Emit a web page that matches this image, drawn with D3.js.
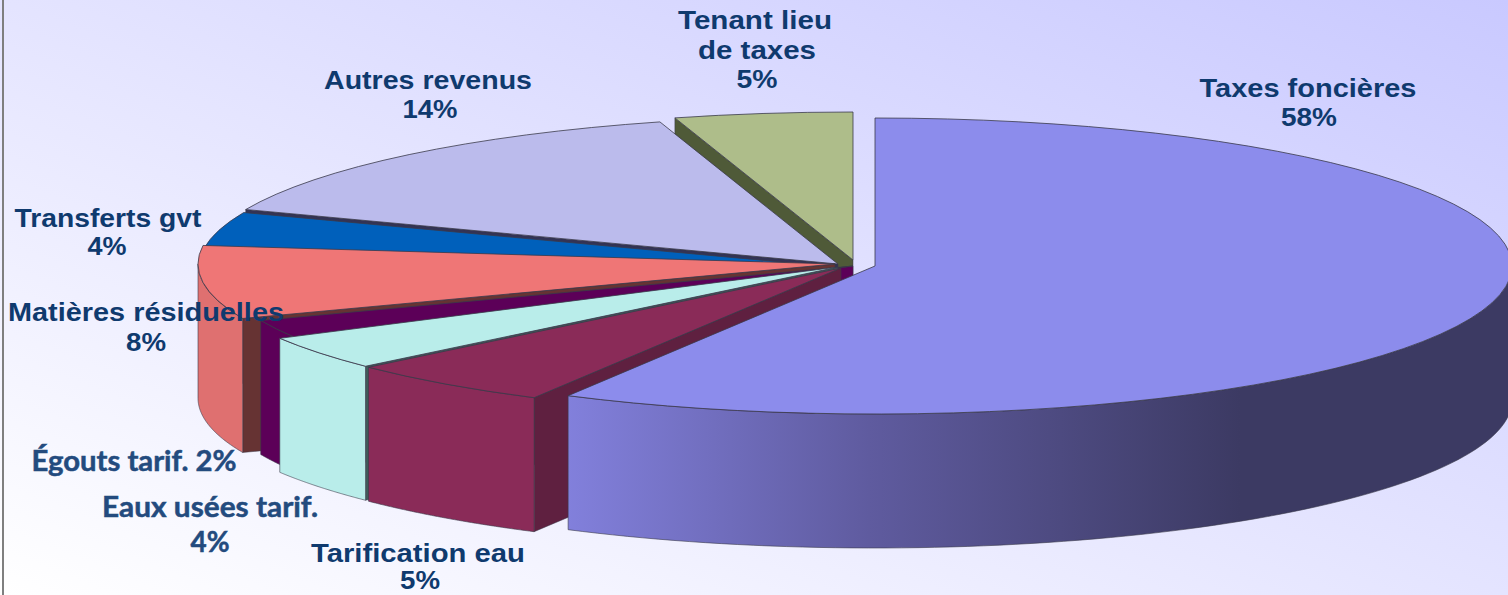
<!DOCTYPE html>
<html>
<head>
<meta charset="utf-8">
<script src="https://cdnjs.cloudflare.com/ajax/libs/d3/7.8.5/d3.min.js"></script>
<style>
  html, body { margin: 0; padding: 0; background: #fff; }
  svg { display: block; }
  text { font-family: "Liberation Sans", Arial, sans-serif; font-weight: bold; }
</style>
</head>
<body>
<svg id="chart" width="1508" height="595"></svg>
<script>
// share of revenues, clockwise from 12 o'clock. each rounds to the printed label
let categories = ['Taxes foncières', 'Tarification eau', 'Eaux usées tarif.', 'Égouts tarif.', 'Matières résiduelles', 'Transferts gvt', 'Autres revenus', 'Tenant lieu de taxes']
let values = [58, 5.3, 3.7, 2, 8, 4, 14.49, 4.51]

// styles and explode offsets, same order as categories
let topColors = ['#8c8cec', '#8a2b58', '#b9edea', '#5c0058', '#ef7676', '#0060bb', '#bbbbec', '#aebd8a']
let wallColors = ['url(#bigWall)', '#8a2b58', '#b9edea', '#5c0058', '#df7070', '#0060bb', '#bbbbec', '#aebd8a']
let faceColors = ['#3c3a63', '#5f2040', '#3f5a5a', '#5c0058', '#663333', '#1a2a4a', '#333355', '#4f5a38']
let centers = [[875, 266], [841, 268], [838, 267], [853, 266], [835, 264], [836, 267], [838, 264], [853, 260]]

// label lines: text, centre x, baseline, width, colour, font
let labelLines = ['Taxes foncières', '58%', 'Tenant lieu', 'de taxes', '5%', 'Autres revenus', '14%', 'Transferts gvt', '4%', 'Matières résiduelles', '8%', 'Égouts tarif. 2%', 'Eaux usées tarif.', '4%', 'Tarification eau', '5%']
let labelX = [1308, 1309, 755, 757, 757, 428, 430, 108, 107, 146, 146, 134, 210, 210, 418, 420]
let labelY = [97, 126, 29, 59, 88, 89, 118, 227, 255, 321, 351, 471, 517, 552, 562, 589]
let labelW = [217, 56, 154, 118, 41, 208, 55, 187, 39, 276, 40, 205, 216, 39, 214, 40]
let labelLato = [0, 0, 0, 0, 0, 0, 0, 0, 0, 0, 0, 1, 1, 1, 0, 0]

let svg = d3.select('#chart')
let width = +svg.attr('width')
let height = +svg.attr('height')
let rx = 637
let ry = 148
let depth = 134

let defs = svg.append('defs')
let bg = defs.append('linearGradient').attr('id', 'bg')
  .attr('x1', 0).attr('y1', 1).attr('x2', 1).attr('y2', 0)
bg.append('stop').attr('offset', '0%').attr('stop-color', '#ffffff')
bg.append('stop').attr('offset', '100%').attr('stop-color', '#c9c9ff')

let bigWall = defs.append('linearGradient').attr('id', 'bigWall')
  .attr('gradientUnits', 'userSpaceOnUse')
  .attr('x1', 566).attr('y1', 0).attr('x2', 1240).attr('y2', 0)
bigWall.append('stop').attr('offset', '0%').attr('stop-color', '#8280dc')
bigWall.append('stop').attr('offset', '45%').attr('stop-color', '#5f5b9f')
bigWall.append('stop').attr('offset', '100%').attr('stop-color', '#3c3a63')

svg.append('rect').attr('width', width).attr('height', height).attr('fill', 'url(#bg)')
svg.append('line').attr('x1', 3).attr('x2', 3).attr('y1', 0).attr('y2', height)
  .attr('stroke', '#7f7f7f').attr('stroke-width', 2)

let pie = d3.pie().sort(null).value(function (d) { return d })
let arcs = pie(values)

let arc = d3.arc().innerRadius(0).outerRadius(rx)
let line = d3.line()

function px(i, t) { return centers[i][0] + rx * Math.sin(t) }
function py(i, t) { return centers[i][1] - ry * Math.cos(t) }

// outer wall, only the part of the rim facing the viewer
function wallPath(i, d) {
  let a0 = Math.max(d.startAngle, Math.PI / 2)
  let a1 = Math.min(d.endAngle, Math.PI * 1.5)
  if (a1 <= a0) return null
  let ts = d3.range(0, 81).map(function (k) { return a0 + (a1 - a0) * k / 80 })
  let top = ts.map(function (t) { return [px(i, t), py(i, t)] })
  let bottom = ts.slice().reverse().map(function (t) { return [px(i, t), py(i, t) + depth] })
  return line(top.concat(bottom)) + 'Z'
}

// radial cut face at the start of a slice
function facePath(i, d) {
  let t = d.startAngle
  if (Math.sin(t) >= -0.001) return null
  let c = centers[i]
  return line([[px(i, t), py(i, t)], [px(i, t), py(i, t) + depth], [c[0], c[1] + depth], c]) + 'Z'
}

// back to front, the big slice last
let order = [7, 6, 5, 4, 3, 2, 1, 0]
let outline = '#3a3a4a'

order.forEach(function (i) {
  let d = arcs[i]
  let g = svg.append('g').attr('class', 'slice')
  let face = facePath(i, d)
  if (face) g.append('path').attr('d', face).attr('fill', faceColors[i]).attr('stroke', outline).attr('stroke-width', 0.5)
  let wall = wallPath(i, d)
  if (wall) g.append('path').attr('d', wall).attr('fill', wallColors[i]).attr('stroke', outline).attr('stroke-width', 0.6)
  g.append('path')
    .attr('transform', 'translate(' + centers[i][0] + ',' + centers[i][1] + ') scale(1,' + ry / rx + ')')
    .attr('d', arc(d))
    .attr('fill', topColors[i])
    .attr('stroke', outline)
    .attr('stroke-width', 0.8)
    .attr('vector-effect', 'non-scaling-stroke')
})

svg.append('g').selectAll('text')
  .data(labelLines)
  .enter().append('text')
  .attr('x', function (d, i) { return labelX[i] })
  .attr('y', function (d, i) { return labelY[i] })
  .attr('text-anchor', 'middle')
  .attr('font-size', function (d, i) { return labelLato[i] ? 28 : 25 })
  .attr('textLength', function (d, i) { return labelW[i] })
  .attr('lengthAdjust', 'spacingAndGlyphs')
  .attr('fill', function (d, i) { return labelLato[i] ? '#234b7e' : '#0f3a6e' })
  .attr('stroke', function (d, i) { return labelLato[i] ? '#234b7e' : 'none' })
  .attr('stroke-width', 0.5)
  .style('font-family', function (d, i) { return labelLato[i] ? 'Lato, sans-serif' : null })
  .text(function (d) { return d })
</script>
</body>
</html>
